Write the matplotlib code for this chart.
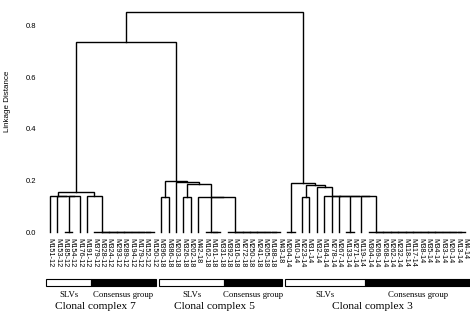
import matplotlib
matplotlib.use("Agg")
import matplotlib.pyplot as plt
from matplotlib.patches import Rectangle

plt.rcParams['font.family'] = ['Liberation Sans', 'DejaVu Sans']

# leaves of each clonal complex, in tree order (SLVs first, then consensus group)
cc7 = ["M151-12", "M153-12", "M185-12", "M154-12", "M176-12", "M191-12",
       "M379-12", "M328-12", "M324-12", "M293-12", "M289-12", "M194-12",
       "M179-12", "M152-12", "M150-12"]
cc5 = ["M396-18", "M386-18", "M203-18", "M326-18", "M202-18", "M42-18",
       "M162-18", "M161-18", "M331-18", "M392-18", "M316-18", "M272-18",
       "M250-18", "M241-18", "M205-18", "M188-18", "M43-18"]
cc3 = ["M204-14", "M10-14", "M223-14", "M31-14", "M32-14", "M184-14",
       "M278-14", "M267-14", "M133-14", "M271-14", "M119-14", "M304-14",
       "M269-14", "M268-14", "M262-14", "M232-14", "M118-14", "M117-14",
       "M38-14", "M35-14", "M34-14", "M33-14", "M20-14", "M13-14", "M4-14"]
n_slv = [6, 9, 11]
complex_names = ["Clonal complex 7", "Clonal complex 5", "Clonal complex 3"]

# linkage distances: (height, [children]); children with the same height are chained
tree7 = (0.155, [(0.14, [cc7[0], cc7[1], (0.0, cc7[2:4]), cc7[4]]),
                 (0.14, [cc7[5], (0.0, cc7[6:15])])])
tree5 = (0.20, [(0.137, cc5[0:2]),
                (0.195, [cc5[2], (0.186, [(0.137, cc5[3:5]),
                                          (0.137, [cc5[5], (0.0, cc5[6:9]), (0.0, cc5[9:17])])])])])
tree3 = (0.19, [(0.0, cc3[0:2]),
                (0.183, [(0.137, cc3[2:4]),
                         (0.176, [cc3[4], (0.14, [cc3[5], cc3[6], cc3[7], (0.0, cc3[8:10]),
                                                  cc3[10], (0.0, cc3[11:25])])])])])
tree = (0.854, [(0.735, [tree7, tree5]), tree3])

leaves = cc7 + cc5 + cc3
pos = {name: i for i, name in enumerate(leaves)}

fig = plt.figure(figsize=(4.7, 3.14), dpi=100)
ax = fig.add_axes([40 / 470, (314 - 232.3) / 314, 430 / 470, 227.3 / 314])


def draw(node):
    if isinstance(node, str):
        return pos[node], 0.0
    h, kids = node
    pts = [draw(k) for k in kids]
    x, y = pts[-1]
    for xa, ya in reversed(pts[:-1]):
        ax.plot([xa, xa, x, x], [ya, h, h, y], color='black', lw=1.0, clip_on=False,
                solid_joinstyle='miter')
        x, y = (xa + x) / 2, h
    return x, y


draw(tree)

ax.set_xlim(-1.35, 56.68)
ax.set_ylim(0, 0.880)
for s in ax.spines.values():
    s.set_visible(False)
ax.set_yticks([0.0, 0.2, 0.4, 0.6, 0.8])
ax.tick_params(axis='y', length=0, pad=2.5, labelsize=5.5)
ax.set_xticks(range(len(leaves)), leaves, rotation=-90, fontsize=5.3)
ax.tick_params(axis='x', length=0, pad=4.3)
ax.set_ylabel("Linkage Distance", fontsize=5.8)
ax.yaxis.set_label_coords(-0.068, 0.577)

# SLV / consensus bars under the labels
start = 0
for k, (members, slv, name) in enumerate(zip([cc7, cc5, cc3], n_slv, complex_names)):
    n = len(members)
    left = start - 0.5 + (0.0 if k == 0 else 0.2)
    mid = start + slv - 0.5
    right = start + n - 0.5 - 0.15 if k < 2 else start + n + 1
    ax.add_patch(Rectangle((left, -0.206), mid - left, 0.024, facecolor='white',
                           edgecolor='black', lw=0.8, clip_on=False))
    ax.add_patch(Rectangle((mid, -0.206), right - mid, 0.024, facecolor='black',
                           edgecolor='black', lw=0.8, clip_on=False))
    ax.text((left + mid) / 2, -0.249, "SLVs", family='Liberation Serif', fontsize=6.3,
            ha='center', va='baseline')
    ax.text((mid + min(right, 56.8)) / 2, -0.249, "Consensus group", family='Liberation Serif',
            fontsize=6.3, ha='center', va='baseline')
    ax.text((left + min(right, 56.8)) / 2 - 0.8, -0.298, name, family='Liberation Serif',
            fontsize=8.2, ha='center', va='baseline')
    start += n

fig.savefig("out.png", dpi=100)
